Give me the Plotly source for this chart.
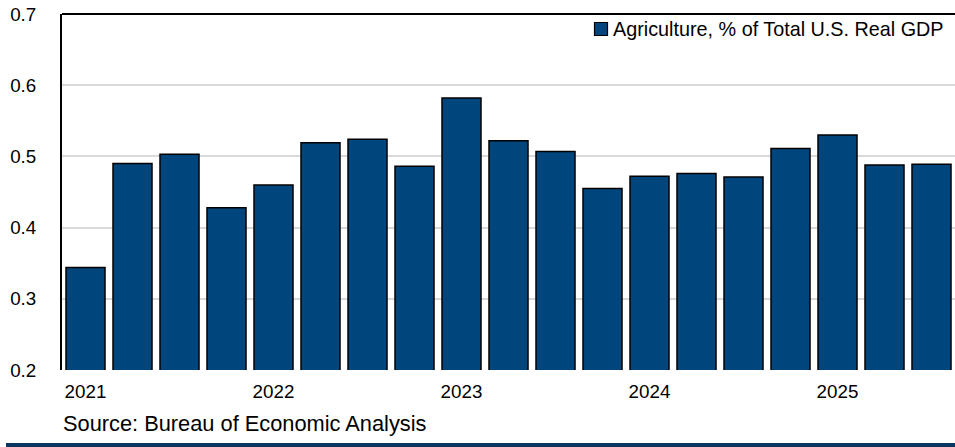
import plotly.graph_objects as go

quarters = [
    "2021 Q1", "2021 Q2", "2021 Q3", "2021 Q4",
    "2022 Q1", "2022 Q2", "2022 Q3", "2022 Q4",
    "2023 Q1", "2023 Q2", "2023 Q3", "2023 Q4",
    "2024 Q1", "2024 Q2", "2024 Q3", "2024 Q4",
    "2025 Q1", "2025 Q2", "2025 Q3",
]
agri_share = [
    0.344, 0.490, 0.503, 0.428,
    0.460, 0.519, 0.524, 0.486,
    0.582, 0.522, 0.507, 0.455,
    0.472, 0.476, 0.471, 0.511,
    0.530, 0.488, 0.489,
]
year_tick_vals = ["2021 Q1", "2022 Q1", "2023 Q1", "2024 Q1", "2025 Q1"]
year_tick_text = ["2021", "2022", "2023", "2024", "2025"]
y_ticks = [0.2, 0.3, 0.4, 0.5, 0.6, 0.7]
series_name = "Agriculture, % of Total U.S. Real GDP"
source_text = "Source: Bureau of Economic Analysis"

FONT = "Liberation Sans, Arial, sans-serif"
NAVY = "#00467C"

W, H = 955, 447
L, R, T, B = 62, 0, 14, 77
PW, PH = W - L - R, H - T - B


def px_x(x):
    return (x - L) / PW


def px_y(y):
    return (H - B - y) / PH


fig = go.Figure()
fig.add_trace(go.Bar(
    x=quarters, y=agri_share,
    name=series_name,
    marker=dict(color=NAVY, line=dict(color="#000000", width=1.5)),
    showlegend=False,
))

fig.update_layout(
    width=W, height=H,
    margin=dict(l=L, r=R, t=T, b=B, autoexpand=False),
    paper_bgcolor="white", plot_bgcolor="white",
    bargap=0.17,
    showlegend=False,
    font=dict(family=FONT, color="#000000"),
)
fig.update_xaxes(
    type="category", automargin=False,
    tickmode="array", tickvals=year_tick_vals, ticktext=year_tick_text,
    ticks="outside", ticklen=4, tickcolor="rgba(0,0,0,0)",
    tickfont=dict(family=FONT, size=18.8, color="#000000"),
    showline=False, showgrid=False, zeroline=False,
)
fig.update_yaxes(
    range=[0.2, 0.7], automargin=False,
    tickmode="array", tickvals=y_ticks, ticktext=[f"{v:.1f}" for v in y_ticks],
    ticks="outside", ticklen=20, tickcolor="rgba(0,0,0,0)",
    tickfont=dict(family=FONT, size=18.8, color="#000000"),
    showline=True, linecolor="#000000", linewidth=2,
    showgrid=True, gridcolor="#d9d9d9", gridwidth=1.5,
    zeroline=False,
)

# top frame line
fig.add_shape(type="line", xref="paper", yref="paper", x0=0, x1=1, y0=1, y1=1,
              line=dict(color="#000000", width=2))
# bottom navy strip
fig.add_shape(type="rect", xref="paper", yref="paper",
              x0=px_x(6), x1=1, y0=px_y(447), y1=px_y(443),
              line=dict(width=0), fillcolor="#0B3660")

# legend key (square swatch + label)
fig.add_shape(type="rect", xref="paper", yref="paper",
              x0=px_x(594.5), x1=px_x(607.5), y0=px_y(35.5), y1=px_y(22.5),
              line=dict(color="#000000", width=1.2), fillcolor=NAVY)
fig.add_annotation(
    text=series_name,
    xref="paper", yref="paper", x=px_x(611), y=px_y(29),
    xanchor="left", yanchor="middle", showarrow=False,
    font=dict(family=FONT, size=19.8, color="#000000"),
)

fig.add_annotation(
    text=source_text,
    xref="paper", yref="paper", x=px_x(61), y=px_y(423),
    xanchor="left", yanchor="middle", showarrow=False,
    font=dict(family=FONT, size=21.8, color="#000000"),
)

fig.write_html(
    "out.html",
    config={"displayModeBar": False},
    post_script="document.body.style.margin='0';document.body.style.overflow='hidden';",
)
